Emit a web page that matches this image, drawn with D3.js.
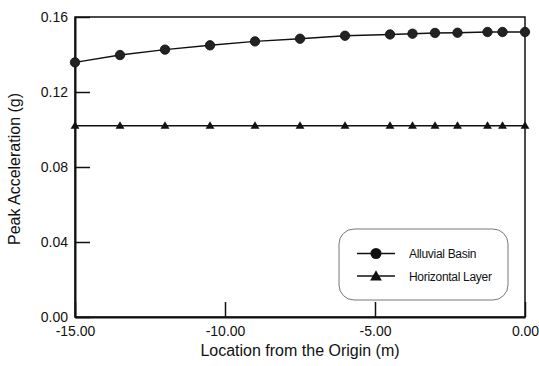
<!DOCTYPE html>
<html>
<head>
<meta charset="utf-8">
<script src="https://cdn.jsdelivr.net/npm/d3@7"></script>
<style>
  body { margin: 0; background: #fff; }
  svg text { font-family: "Liberation Sans", Arial, sans-serif; fill: #111; }
</style>
</head>
<body>
<div id="chart"></div>
<script>
// location from origin (m)
var locations = [-15, -13.5, -12, -10.5, -9, -7.5, -6, -4.5, -3.75, -3, -2.25, -1.25, -0.75, 0];
// peak acceleration (g)
var alluvialBasin = [0.1358, 0.1397, 0.1426, 0.1449, 0.1470, 0.1484, 0.1500, 0.1507, 0.1511, 0.1515, 0.1516, 0.1520, 0.1520, 0.1520];
var horizontalLayer = [0.102, 0.102, 0.102, 0.102, 0.102, 0.102, 0.102, 0.102, 0.102, 0.102, 0.102, 0.102, 0.102, 0.102];
var xTicks = [-15, -10, -5, 0];
var yTicks = [0, 0.04, 0.08, 0.12, 0.16];
var seriesNames = ["Alluvial Basin", "Horizontal Layer"];

var width = 539, height = 366;
var margin = {top: 17, right: 14, bottom: 49, left: 75};

// plain hyphen for negatives, like the original
var fmt = d3.formatLocale({decimal: ".", thousands: ",", grouping: [3], currency: ["", ""], minus: "-"}).format(".2f");

var svg = d3.select("#chart").append("svg")
    .attr("width", width)
    .attr("height", height);

var x = d3.scaleLinear()
    .domain([-15, 0])
    .range([margin.left, width - margin.right]);

var y = d3.scaleLinear()
    .domain([0, 0.16])
    .range([height - margin.bottom, margin.top]);

// frame (top + right)
svg.append("rect")
    .attr("x", x(-15)).attr("y", y(0.16))
    .attr("width", x(0) - x(-15)).attr("height", y(0) - y(0.16))
    .attr("fill", "none").attr("stroke", "#111").attr("stroke-width", 1.5);

var xAxis = svg.append("g")
    .attr("transform", `translate(0,${y(0)})`)
    .call(d3.axisBottom(x).tickValues(xTicks).tickFormat(fmt)
        .tickSizeInner(-15).tickSizeOuter(0).tickPadding(9));

var yAxis = svg.append("g")
    .attr("transform", `translate(${x(-15)},0)`)
    .call(d3.axisLeft(y).tickValues(yTicks).tickFormat(fmt)
        .tickSizeInner(-15).tickSizeOuter(0).tickPadding(7));

[xAxis, yAxis].forEach(g => {
    g.select(".domain").attr("stroke", "#111").attr("stroke-width", 2);
    g.selectAll(".tick line").attr("stroke", "#111").attr("stroke-width", 1.5);
    g.selectAll(".tick text").style("font-size", "14px");
});
yAxis.selectAll(".tick text").attr("x", -7);

// axis titles
svg.append("text")
    .attr("x", (x(-15) + x(0)) / 2).attr("y", 356)
    .attr("text-anchor", "middle")
    .style("font-size", "16px")
    .text("Location from the Origin (m)");

svg.append("text")
    .attr("transform", `translate(20,${(y(0) + y(0.16)) / 2 + 2}) rotate(-90)`)
    .attr("text-anchor", "middle")
    .style("font-size", "16px")
    .text("Peak Acceleration (g)");

var line = d3.line()
    .x((d, i) => x(locations[i]))
    .y(d => y(d));

var circle = d3.symbol().type(d3.symbolCircle).size(70);
var triangle = d3.symbol().type(d3.symbolTriangle).size(34);

// horizontal layer
svg.append("path")
    .attr("d", line(horizontalLayer))
    .attr("fill", "none").attr("stroke", "#111").attr("stroke-width", 1.5);
svg.selectAll(".tri")
    .data(horizontalLayer)
    .join("path")
    .attr("class", "tri")
    .attr("transform", (d, i) => `translate(${x(locations[i])},${y(d) + 0.5})`)
    .attr("d", triangle)
    .attr("fill", "#111");

// alluvial basin
svg.append("path")
    .attr("d", line(alluvialBasin))
    .attr("fill", "none").attr("stroke", "#111").attr("stroke-width", 1.5);
svg.selectAll(".dot")
    .data(alluvialBasin)
    .join("path")
    .attr("class", "dot")
    .attr("transform", (d, i) => `translate(${x(locations[i])},${y(d)})`)
    .attr("d", circle)
    .attr("fill", "#222").attr("stroke", "#111").attr("stroke-width", 0.8);

// legend
var legend = svg.append("g").attr("transform", "translate(339,229)");
legend.append("rect")
    .attr("width", 169).attr("height", 71)
    .attr("rx", 15).attr("ry", 15)
    .attr("fill", "#fff").attr("stroke", "#777").attr("stroke-width", 1);

var legendSymbols = [d3.symbol().type(d3.symbolCircle).size(95), d3.symbol().type(d3.symbolTriangle).size(60)];
var item = legend.selectAll(".item")
    .data(seriesNames)
    .join("g")
    .attr("class", "item")
    .attr("transform", (d, i) => `translate(0,${i === 0 ? 24.5 : 47})`);
item.append("line")
    .attr("x1", 18).attr("x2", 56)
    .attr("stroke", "#111").attr("stroke-width", 1.5);
item.append("path")
    .attr("transform", (d, i) => `translate(37,${i === 0 ? 0 : 1})`)
    .attr("d", (d, i) => legendSymbols[i]())
    .attr("fill", "#111");
item.append("text")
    .attr("x", 70).attr("y", 4.5)
    .style("font-size", "12px")
    .style("letter-spacing", "-0.3px")
    .text(d => d);
</script>
</body>
</html>
